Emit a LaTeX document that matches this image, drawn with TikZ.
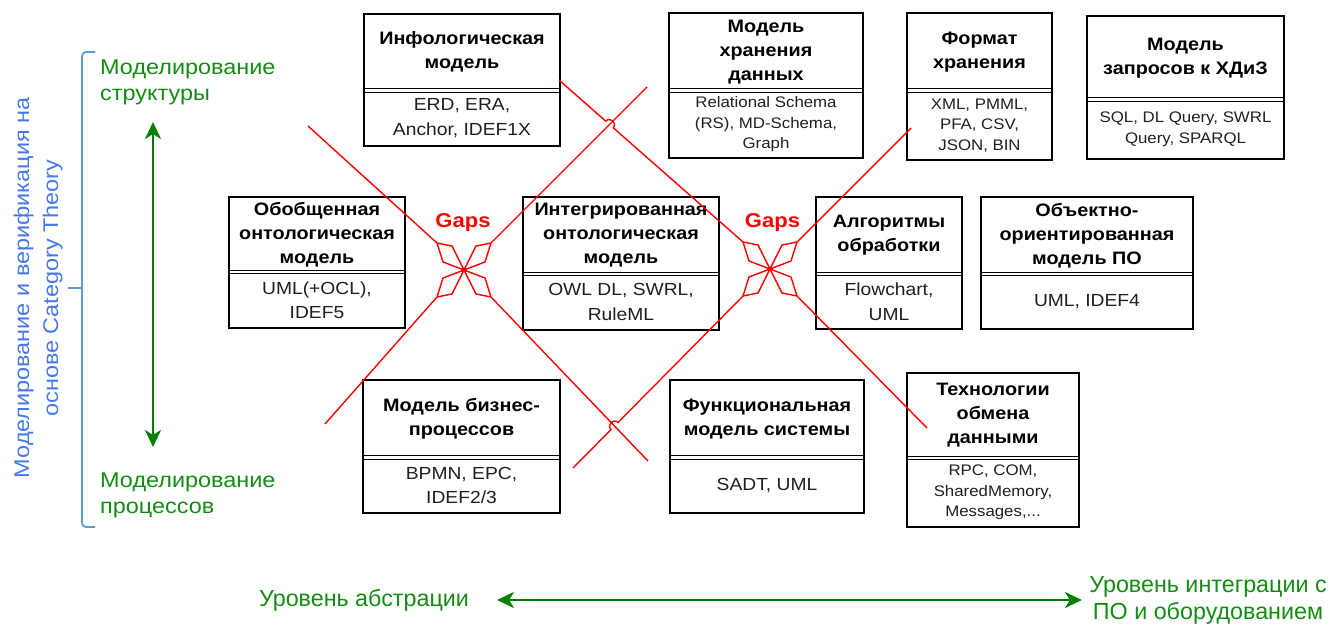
\documentclass[tikz,border=0pt]{standalone}
\usepackage{fontspec}
\setmainfont{Liberation Sans}[FakeStretch=1.1]
\newfontfamily\narrowsans{Liberation Sans}[FakeStretch=1.0]
\usetikzlibrary{arrows.meta,calc}

\definecolor{gapred}{RGB}{255,0,0}
\definecolor{axisgreen}{RGB}{0,128,0}
\definecolor{labelgreen}{RGB}{20,140,20}
\definecolor{bracketblue}{RGB}{91,155,213}
\definecolor{noteblue}{RGB}{70,120,235}

\tikzset{
  frame/.style={draw=black, line width=1.9pt, inner sep=0pt, outer sep=0pt},
  divider/.style={draw=black, line width=1.3pt},
  title/.style={font=\bfseries\fontsize{18}{24}\selectfont, align=center, text=black, inner sep=0pt},
  body/.style={font=\fontsize{17.5}{24.5}\selectfont, align=center, text=black!88, inner sep=0pt},
  smallbody/.style={font=\fontsize{15.3}{20.5}\selectfont, align=center, text=black!88, inner sep=0pt},
  gapline/.style={draw=gapred, line width=1.4pt, line join=miter},
  gaps/.style={font=\bfseries\fontsize{20}{24}\selectfont, text=gapred, inner sep=0pt},
  greenlabel/.style={font=\fontsize{21.3}{26.5}\selectfont, text=labelgreen, align=left, inner sep=0pt},
  bottomlabel/.style={font=\narrowsans\fontsize{23.3}{27}\selectfont, text=labelgreen, align=center, inner sep=0pt},
  notetext/.style={font=\fontsize{21.3}{29}\selectfont, text=noteblue, align=center, inner sep=0pt},
  bracket/.style={draw=bracketblue, line width=1.8pt},
  axisarrow/.style={draw=axisgreen, line width=2.6pt,
    {Stealth[length=17pt,width=16pt,inset=5pt]}-{Stealth[length=17pt,width=16pt,inset=5pt]}},
}

% a two-compartment model box: name, x1, y1, x2, y2, divider y, title, body, body style
\newcommand\modelbox[9]{%
  \node[frame, anchor=north west, minimum width={(#4-#2)*1pt}, minimum height={(#5-#3)*1pt}] (#1) at (#2,#3) {};
  \draw[divider] (#2,#6-1.7) -- (#4,#6-1.7);
  \draw[divider] (#2,#6+1.7) -- (#4,#6+1.7);
  \node[title] (#1-title) at ({(#2+#4)/2},{(#3+#6)/2}) {#7};
  \node[#9] (#1-body) at ({(#2+#4)/2},{(#6+#5)/2}) {#8};
}

% a four-petal "gap" mark: name, centre x, centre y
\newcommand\gapstar[3]{%
  \coordinate (#1) at (#2,#3);
  \coordinate (#1-nw) at (#2-27,#3-27);
  \coordinate (#1-ne) at (#2+27,#3-27);
  \coordinate (#1-sw) at (#2-27,#3+27);
  \coordinate (#1-se) at (#2+27,#3+27);
  \draw[gapline] (#1) -- (#2-12,#3-24) -- (#1-nw) -- (#2-21,#3-8) -- cycle;
  \draw[gapline] (#1) -- (#2+12,#3-24) -- (#1-ne) -- (#2+21,#3-8) -- cycle;
  \draw[gapline] (#1) -- (#2-12,#3+24) -- (#1-sw) -- (#2-21,#3+8) -- cycle;
  \draw[gapline] (#1) -- (#2+12,#3+24) -- (#1-se) -- (#2+21,#3+8) -- cycle;
}

\begin{document}
\begin{tikzpicture}[x=1pt, y=-1pt]
\useasboundingbox (0,0) rectangle (1331,624);

% ---- model boxes ----
\modelbox{info}{364}{14}{560}{146}{90.5}{Инфологическая\\модель}{ERD, ERA,\\Anchor, IDEF1X}{body}
\modelbox{storage}{669}{13}{863}{158}{90.5}{Модель\\хранения\\данных}{Relational Schema\\(RS), MD-Schema,\\Graph}{smallbody}
\modelbox{format}{907}{13}{1052}{160}{90.5}{Формат\\хранения}{XML, PMML,\\PFA, CSV,\\JSON, BIN}{smallbody}
\modelbox{query}{1087}{16}{1284}{159}{99.5}{Модель\\запросов к ХДиЗ}{SQL, DL Query, SWRL\\Query, SPARQL}{smallbody}

\modelbox{genonto}{229}{197}{405}{328}{272}{Обобщенная\\онтологическая\\модель}{UML(+OCL),\\IDEF5}{body}
\modelbox{intonto}{523}{197}{719}{330}{274}{Интегрированная\\онтологическая\\модель}{OWL DL, SWRL,\\RuleML}{body}
\modelbox{algo}{816}{197}{962}{329}{274}{Алгоритмы\\обработки}{Flowchart,\\UML}{body}
\modelbox{oomodel}{981}{197}{1193}{329}{274}{Объектно-\\ориентированная\\модель ПО}{UML, IDEF4}{body}

\modelbox{business}{363}{380}{560}{513}{457.5}{Модель бизнес-\\процессов}{BPMN, EPC,\\IDEF2/3}{body}
\modelbox{func}{670}{380}{864}{513}{457.5}{Функциональная\\модель системы}{SADT, UML}{body}
\modelbox{exchange}{907}{373}{1079}{527}{458}{Технологии\\обмена\\данными}{RPC, COM,\\SharedMemory,\\Messages,...}{smallbody}

% ---- gap marks ----
\gapstar{g1}{464}{270}
\gapstar{g2}{770}{269}
\node[gaps] (gaps1) at (463,222.5) {Gaps};
\node[gaps] (gaps2) at (772.5,222.5) {Gaps};

% ---- red gap lines ----
\coordinate (a1) at (308,126);
\coordinate (a2) at (647,87);
\coordinate (a3) at (325,424);
\coordinate (a4) at (648,461);
\coordinate (a5) at (559,80);
\coordinate (a6) at (911,128);
\coordinate (a7) at (573,468);
\coordinate (a8) at (927,428);

\draw[gapline] (a1) -- (g1-nw);
\draw[gapline] (g1-ne) -- (a2);
\draw[gapline] (g1-sw) -- (a3);
\draw[gapline] (g1-se) -- (a4);
\draw[gapline] (g2-ne) -- (a6);
\draw[gapline] (g2-se) -- (a8);

% lines with a hop over the crossing line
\coordinate (x1) at (intersection of a5--g2-nw and g1-ne--a2);
\coordinate (h1a) at ($(x1)!5pt!(a5)$);
\coordinate (h1b) at ($(x1)!5pt!(g2-nw)$);
\draw[gapline] (a5) -- (h1a)
  .. controls ($(h1a)!6.5pt!90:(x1)$) and ($(h1b)!6.5pt!-90:(x1)$) .. (h1b) -- (g2-nw);

\coordinate (x2) at (intersection of g2-sw--a7 and g1-se--a4);
\coordinate (h2a) at ($(x2)!5pt!(g2-sw)$);
\coordinate (h2b) at ($(x2)!5pt!(a7)$);
\draw[gapline] (g2-sw) -- (h2a)
  .. controls ($(h2a)!6.5pt!-90:(x2)$) and ($(h2b)!6.5pt!90:(x2)$) .. (h2b) -- (a7);

% ---- left bracket and its note ----
\draw[bracket, rounded corners=4pt] (95,52) -- (82,52) -- (82,527) -- (95,527);
\draw[bracket] (82,288) -- (68,288);
\node[notetext, rotate=90] (theory) at (38,288) {Моделирование и верификация на\\основе Category Theory};

% ---- structure / process axis ----
\node[greenlabel, anchor=west] (structure) at (100,82.5) {Моделирование\\структуры};
\node[greenlabel, anchor=west] (process) at (100,495.5) {Моделирование\\процессов};
\coordinate (vtop) at (153,122);
\coordinate (vbot) at (153,447);
\draw[axisarrow] (vtop) -- (vbot);

% ---- abstraction / integration axis ----
\node[bottomlabel] (abstraction) at (364,600) {Уровень абстрации};
\node[bottomlabel] (integration) at (1208,600.5) {Уровень интеграции с\\ПО и оборудованием};
\coordinate (hleft) at (497,600);
\coordinate (hright) at (1082,600);
\draw[axisarrow] (hleft) -- (hright);
\end{tikzpicture}
\end{document}
